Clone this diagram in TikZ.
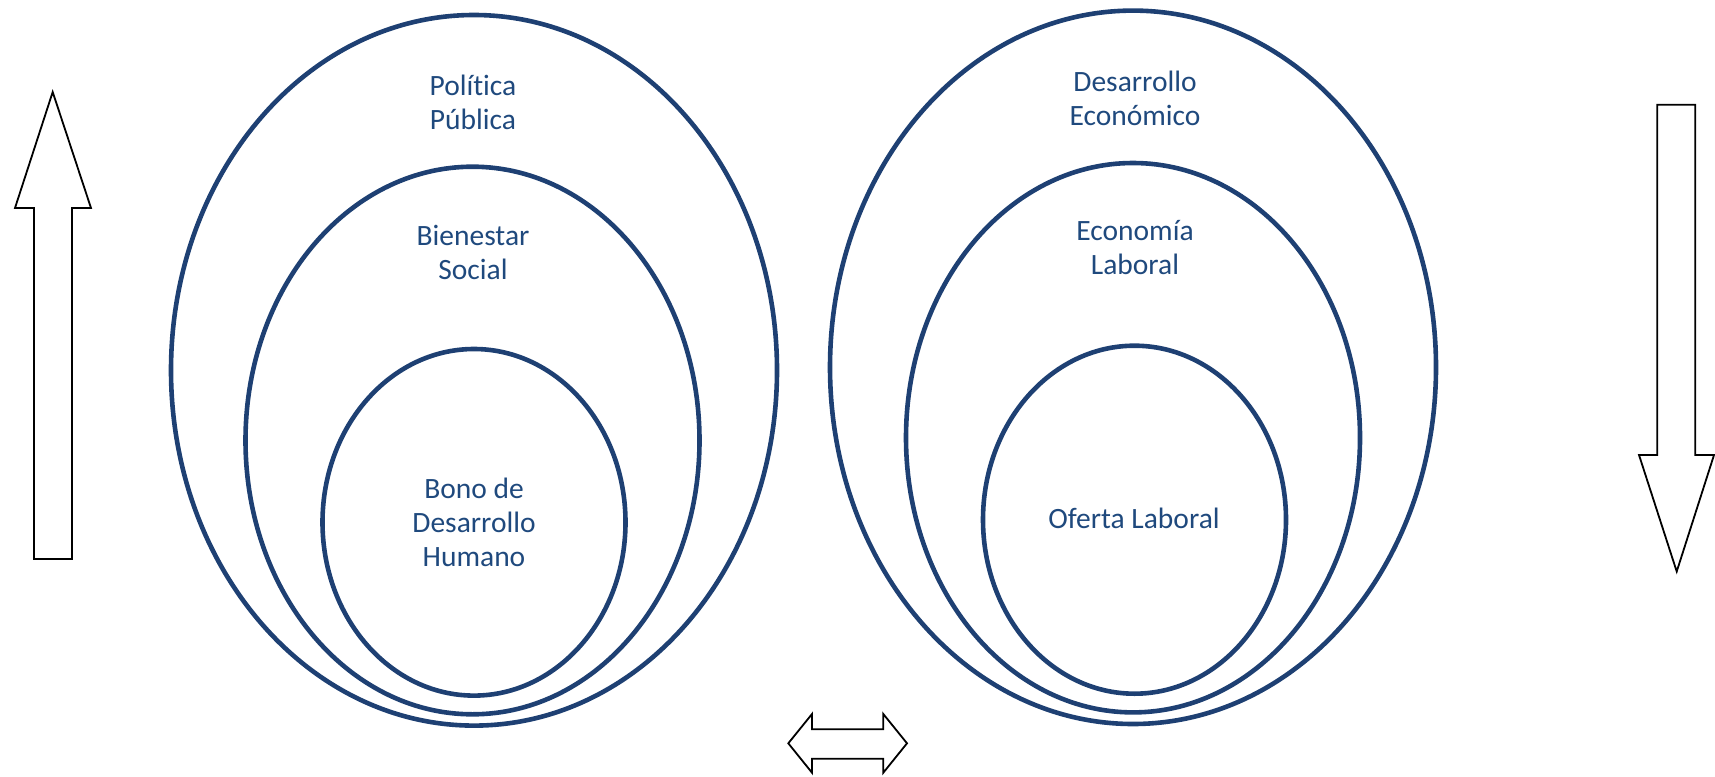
\documentclass[tikz,border=0pt]{standalone}
\usepackage{fontspec}
\setmainfont{Carlito}[Ligatures={NoCommon}]
\definecolor{ringblue}{RGB}{30,64,115}
\definecolor{textblue}{RGB}{31,73,125}
\begin{document}
\begin{tikzpicture}[x=1pt,y=-1pt,
  ring/.style={draw=ringblue,line width=4.6pt},
  lbl/.style={text=textblue,align=center,font=\fontsize{29.5}{34}\selectfont,inner sep=0pt},
  blockarrow/.style={draw=black,line width=1.8pt,fill=white,line join=miter}]
\useasboundingbox (0,0) rectangle (1715,776);
% left ellipses
\draw[ring] (474,370.3) ellipse [x radius=303pt, y radius=355.3pt];
\draw[ring] (472.5,440.5) ellipse [x radius=227pt, y radius=273.8pt];
\draw[ring] (474,522.3) ellipse [x radius=151.5pt, y radius=173.3pt];
% right ellipses
\draw[ring] (1133,367.3) ellipse [x radius=303pt, y radius=356.7pt];
\draw[ring] (1133,437.7) ellipse [x radius=227pt, y radius=274.7pt];
\draw[ring] (1134.5,519.7) ellipse [x radius=151.5pt, y radius=174pt];
% labels
\node[lbl] (pp) at (473,102) {Política\\Pública};
\node[lbl] (bs) at (473,252) {Bienestar\\Social};
\node[lbl] (bdh) at (474,522) {Bono de\\Desarrollo\\Humano};
\node[lbl] (de) at (1135,98) {Desarrollo\\Económico};
\node[lbl] (el) at (1135,248) {Economía\\Laboral};
\node[lbl] (ol) at (1134,518) {Oferta Laboral};
% up arrow
\draw[blockarrow] (52.7,92) -- (91,208) -- (72,208) -- (72,559) -- (34,559) -- (34,208) -- (15,208) -- cycle;
% down arrow
\draw[blockarrow] (1676.7,571.5) -- (1714,455) -- (1695.3,455) -- (1695.3,104.7) -- (1657.3,104.7) -- (1657.3,455) -- (1639,455) -- cycle;
% double arrow
\draw[blockarrow] (788.3,743.3) -- (812,714) -- (812,729.3) -- (883.3,729.3) -- (883.3,714) -- (907,743.3) -- (883.3,772.7) -- (883.3,758.7) -- (812,758.7) -- (812,772.7) -- cycle;
\end{tikzpicture}
\end{document}
